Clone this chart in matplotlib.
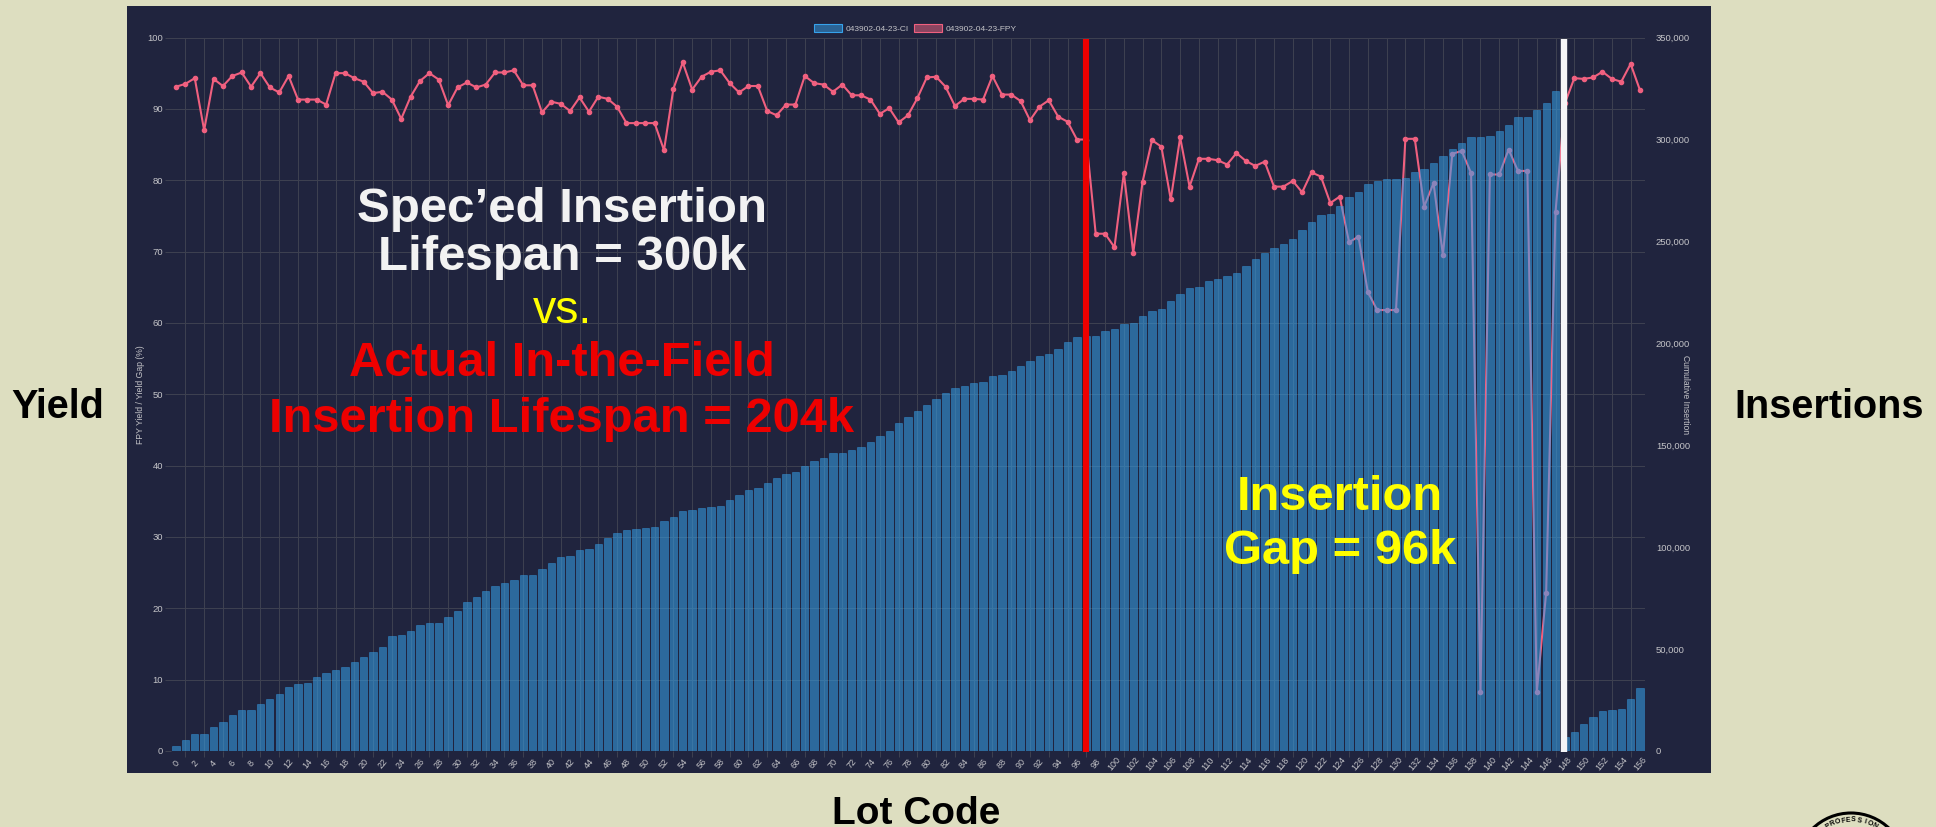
import math
import numpy as np
import matplotlib
matplotlib.use('Agg')
import matplotlib.pyplot as plt
from matplotlib.patches import Rectangle, Circle, Patch

# cumulative insertions per lot, in thousands
insercoes_k = [
    2.5, 5.3, 8.1, 8.4, 11.6, 14.4, 17.5, 20.0, 20.3, 23.1,
    25.6, 28.0, 31.2, 32.9, 33.6, 36.1, 38.5, 39.9, 41.0, 43.8,
    46.2, 48.7, 51.1, 56.4, 56.7, 58.8, 61.6, 62.7, 63.0, 65.5,
    68.6, 73.2, 75.6, 78.4, 80.9, 82.3, 84.0, 86.1, 86.5, 89.3,
    92.4, 95.2, 95.6, 98.4, 99.1, 101.5, 104.3, 107.1, 108.5, 108.9,
    109.2, 109.9, 112.7, 114.8, 117.6, 118.3, 119.4, 119.7, 120.4, 122.9,
    125.7, 128.1, 128.8, 131.3, 134.1, 135.8, 136.9, 139.7, 142.5, 143.5,
    146.0, 146.3, 147.7, 149.1, 151.6, 154.4, 157.2, 160.7, 163.8, 166.6,
    169.8, 172.6, 175.4, 178.2, 178.9, 180.3, 181.0, 183.8, 184.5, 186.6,
    189.0, 191.5, 193.9, 194.6, 197.1, 200.6, 203.0, 203.4, 203.4, 206.2,
    206.9, 209.3, 210.0, 213.2, 215.6, 217.0, 220.9, 224.0, 227.2, 227.5,
    230.7, 231.7, 233.1, 234.5, 237.7, 241.2, 244.3, 246.8, 248.5, 251.3,
    255.5, 259.7, 262.9, 263.6, 267.4, 271.6, 274.4, 277.9, 279.7, 280.4,
    280.7, 281.1, 284.2, 285.6, 288.4, 291.9, 295.4, 298.2, 301.0, 301.0,
    301.7, 304.2, 307.3, 310.8, 310.8, 314.3, 317.8, 323.8, 7.0, 9.1,
    13.3, 16.5, 19.8, 20.1, 20.5, 25.6, 30.8,
]

# first pass yield per lot (%)
fpy = [
    93.1, 93.5, 94.3, 87.0, 94.2, 93.2, 94.6, 95.1, 93.1, 95.0,
    93.0, 92.3, 94.6, 91.3, 91.3, 91.3, 90.6, 95.0, 95.0, 94.3,
    93.8, 92.2, 92.4, 91.3, 88.6, 91.7, 93.9, 95.0, 94.1, 90.5,
    93.0, 93.7, 93.0, 93.4, 95.1, 95.1, 95.4, 93.3, 93.3, 89.5,
    91.0, 90.7, 89.7, 91.6, 89.6, 91.7, 91.4, 90.3, 88.0, 88.0,
    88.0, 88.0, 84.2, 92.8, 96.5, 92.7, 94.5, 95.2, 95.4, 93.6,
    92.3, 93.2, 93.2, 89.7, 89.1, 90.6, 90.6, 94.6, 93.6, 93.4,
    92.4, 93.4, 91.9, 91.9, 91.3, 89.3, 90.1, 88.1, 89.1, 91.5,
    94.4, 94.5, 93.1, 90.4, 91.4, 91.4, 91.3, 94.6, 92.0, 92.0,
    91.1, 88.4, 90.3, 91.2, 88.9, 88.2, 85.7, 85.7, 72.5, 72.5,
    70.6, 81.0, 69.8, 79.8, 85.6, 84.7, 77.3, 86.0, 79.1, 83.0,
    83.0, 82.8, 82.2, 83.8, 82.7, 82.0, 82.6, 79.1, 79.1, 79.9,
    78.3, 81.1, 80.5, 76.8, 77.7, 71.3, 72.1, 64.3, 61.8, 61.8,
    61.8, 85.8, 85.8, 76.3, 79.6, 69.5, 83.7, 84.1, 81.0, 8.2,
    80.8, 80.8, 84.3, 81.3, 81.3, 8.2, 22.2, 75.6, 90.8, 94.3,
    94.2, 94.4, 95.2, 94.2, 93.8, 96.3, 92.6,
]

serie_ci = '043902-04-23-CI'
serie_fpy = '043902-04-23-FPY'
lote_red = 97
lote_white = 147.9

W, H = 1936, 827
FUNDO = '#dddec0'
PAINEL = '#20243e'
GRADE = '#3d4050'
TEXTO = '#c4c4c8'

plt.rcParams['font.family'] = ['Liberation Sans', 'DejaVu Sans']

fig = plt.figure(figsize=(W / 100, H / 100), dpi=100, facecolor=FUNDO)
fig.add_artist(Rectangle((127 / W, 1 - 773 / H), 1584 / W, 767 / H,
                         transform=fig.transFigure, facecolor=PAINEL, edgecolor='none', zorder=-1))

# axes in pixels of the picture
ax = fig.add_axes([171.3 / W, 1 - 751 / H, 1473.4 / W, 713.5 / H])
ax.patch.set_visible(False)
ax2 = ax.twinx()

x = np.arange(len(fpy))

ax.plot(x, fpy, color='#f0607f', lw=1.5, marker='o', ms=3, zorder=3)
ax2.bar(x, np.array(insercoes_k) * 1000, width=0.78, color='#36a2eb', alpha=0.55,
        edgecolor='#36a2eb', linewidth=0.5)

ax.set_xlim(-0.5, 156.5)
ax.set_ylim(0, 100)
ax2.set_ylim(0, 350000)

# gridlines sit on odd lots, labels on even lots
ax.set_xticks(np.arange(1, 157, 2))
ax.set_xticks(np.arange(0, 157, 2), minor=True)
ax.set_xticklabels([], minor=False)
ax.set_xticklabels([str(i) for i in range(0, 157, 2)], minor=True, rotation=50,
                   ha='center', va='center', fontsize=6.5, color=TEXTO)
ax.tick_params(axis='x', which='major', length=4, color=GRADE, width=0.75)
ax.tick_params(axis='x', which='minor', length=0, pad=9)

ax.set_yticks(np.arange(0, 101, 10))
ax.tick_params(axis='y', length=4, color=GRADE, width=0.75, labelsize=6.8, labelcolor=TEXTO, pad=2)
ax.grid(True, which='major', color=GRADE, lw=0.75)
ax.set_axisbelow(True)
ax.set_ylabel('FPY Yield / Yield Gap (%)', fontsize=6.2, color=TEXTO, labelpad=1.5)

ax2.set_yticks(np.arange(0, 350001, 50000))
ax2.set_yticklabels([f'{v:,}' for v in range(0, 350001, 50000)])
ax2.tick_params(axis='y', length=0, labelsize=6.8, labelcolor=TEXTO, pad=8)
ax2.set_ylabel('Cumulative Insertion', fontsize=6.2, color=TEXTO, rotation=-90, labelpad=0)

for a in (ax, ax2):
    for s in a.spines.values():
        s.set_visible(False)

ax2.axvline(lote_red, ymin=-0.001, ymax=0.998, color='#ee0000', lw=4.4, zorder=6,
            clip_on=False, solid_capstyle='butt')
ax2.axvline(lote_white, ymin=-0.001, ymax=0.998, color='#f4f4f6', lw=4.6, zorder=6,
            clip_on=False, solid_capstyle='butt')

ax2.legend(handles=[
    Patch(facecolor='#2b6394', edgecolor='#36a2eb', lw=0.8, label=serie_ci),
    Patch(facecolor='#8a4560', edgecolor='#f0607f', lw=0.8, label=serie_fpy)],
    loc='lower center', bbox_to_anchor=(0.5051, 0.9985), ncol=2, frameon=False, fontsize=6,
    labelcolor=TEXTO, handlelength=3.3, handleheight=1.2, handletextpad=0.5, columnspacing=0.6,
    borderpad=0.2)

# overlay in picture pixels for the slide annotations
over = fig.add_axes([0, 0, 1, 1], zorder=5)
over.set_xlim(0, W)
over.set_ylim(H, 0)
over.axis('off')

def escreve(px, py, s, cor, tam, peso='bold', va='center'):
    over.text(px, py, s, color=cor, fontsize=tam, fontweight=peso, ha='center', va=va)

escreve(562, 209, 'Spec\u2019ed Insertion', '#f2f2f2', 35.5)
escreve(562, 258, 'Lifespan = 300k', '#f2f2f2', 35.5)
escreve(562, 311, 'vs.', '#ffff00', 33.5, 'normal')
escreve(562, 364, 'Actual In-the-Field', '#ee0000', 35.2)
escreve(562, 419, 'Insertion Lifespan = 204k', '#ee0000', 35.2)
escreve(1340, 498, 'Insertion', '#ffff00', 35.2)
escreve(1340, 551, 'Gap = 96k', '#ffff00', 35.2)

escreve(58, 407, 'Yield', 'black', 28.5)
escreve(1829, 407, 'Insertions', 'black', 28.5)
escreve(916, 824, 'Lot Code', 'black', 28, va='baseline')

# stamp cut by the lower edge of the slide
cx, cy, r = 1851, 868, 55
over.add_patch(Circle((cx, cy), r, fill=False, edgecolor='black', lw=2.2))
selo = 'PROFESSION'
for i, c in enumerate(selo):
    ang = (i - 4.5) * 6.5
    over.text(cx + 48 * math.sin(math.radians(ang)), cy - 48 * math.cos(math.radians(ang)), c,
              rotation=-ang, fontsize=5, fontweight='bold', color='black',
              ha='center', va='center')

plt.savefig('out.png', dpi=100, facecolor=FUNDO)
